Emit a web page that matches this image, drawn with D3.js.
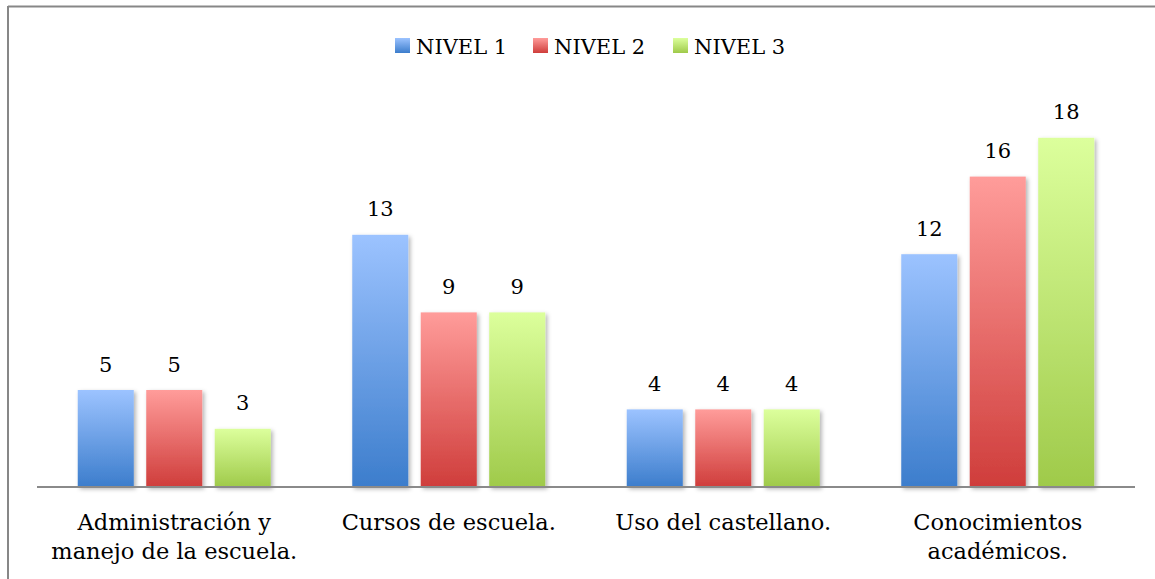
<html><head>
  <meta charset="utf-8">
  <script src="https://d3js.org/d3.v7.min.js"></script>
  <style>
    body { margin: 0; background: #fff; }
    text { font-family: 'DejaVu Serif', 'Liberation Serif', serif; fill: #000; }
  </style>
</head>
<body>
  <div id="chart"></div>
  <script>
    // data
    const categories = [
      ["Administración y", "manejo de la escuela."],
      ["Cursos de escuela."],
      ["Uso del castellano."],
      ["Conocimientos", "académicos."]
    ]
    const series = ["NIVEL 1", "NIVEL 2", "NIVEL 3"]
    const nivel1 = [5, 13, 4, 12]
    const nivel2 = [5, 9, 4, 16]
    const nivel3 = [3, 9, 4, 18]

    const colors = {
      "NIVEL 1": ["#9cc3ff", "#3c7dcc"],
      "NIVEL 2": ["#ff9c9a", "#cf3d3b"],
      "NIVEL 3": ["#dcff9c", "#9fca4a"]
    }

    const width = 1155, height = 579
    const svg = d3.select("#chart").append("svg")
                  .attr("width", width).attr("height", height)

    const defs = svg.append("defs")
    series.forEach((s, i) => {
      let g = defs.append("linearGradient").attr("id", "grad" + i)
                  .attr("x1", 0).attr("y1", 0).attr("x2", 0).attr("y2", 1)
      g.append("stop").attr("offset", "0%").attr("stop-color", colors[s][0])
      g.append("stop").attr("offset", "100%").attr("stop-color", colors[s][1])
    })
    defs.append("filter").attr("id", "shadow")
        .attr("x", "-20%").attr("y", "-10%").attr("width", "150%").attr("height", "130%")
        .append("feDropShadow")
        .attr("dx", 2).attr("dy", 2).attr("stdDeviation", 2)
        .attr("flood-color", "#000").attr("flood-opacity", 0.3)

    // outer frame (only top and left edges visible)
    svg.append("line").attr("x1", 8).attr("x2", width).attr("y1", 6.5).attr("y2", 6.5)
       .attr("stroke", "#878787").attr("stroke-width", 2)
    svg.append("line").attr("x1", 8).attr("x2", 8).attr("y1", 6).attr("y2", height)
       .attr("stroke", "#878787").attr("stroke-width", 2)

    const rows = categories.map((c, i) => ({
      cat: i,
      values: [nivel1[i], nivel2[i], nivel3[i]]
    }))

    const x0 = d3.scaleBand().domain(d3.range(categories.length)).range([37, 1135])
    const x1 = d3.scaleBand().domain(series).range([0, x0.bandwidth()])
                 .paddingInner(0.182).paddingOuter(0.595)
    const y = d3.scaleLinear().domain([0, 20]).range([487, 99])

    const groups = svg.selectAll("g.group").data(rows).join("g")
                      .attr("class", "group")
                      .attr("transform", d => `translate(${x0(d.cat)},0)`)

    groups.selectAll("rect").data(d => d.values.map((v, i) => ({s: series[i], i: i, v: v})))
          .join("rect")
          .attr("x", d => x1(d.s))
          .attr("y", d => y(d.v))
          .attr("width", x1.bandwidth())
          .attr("height", d => y(0) - y(d.v))
          .attr("fill", d => `url(#grad${d.i})`)
          .attr("filter", "url(#shadow)")

    groups.selectAll("text.val").data(d => d.values.map((v, i) => ({s: series[i], v: v})))
          .join("text").attr("class", "val")
          .attr("x", d => x1(d.s) + x1.bandwidth() / 2)
          .attr("y", d => y(d.v) - 18.5)
          .attr("text-anchor", "middle")
          .style("font-size", "21px")
          .text(d => d.v)

    // axis line
    svg.append("line").attr("x1", 37).attr("x2", 1135).attr("y1", y(0)).attr("y2", y(0))
       .attr("stroke", "#8a8a8a").attr("stroke-width", 2)

    // category labels
    const labels = svg.selectAll("text.cat").data(categories).join("text")
                      .attr("class", "cat")
                      .attr("text-anchor", "middle")
                      .style("font-size", "22.5px")
    labels.selectAll("tspan").data((d, i) => d.map(t => ({t: t, i: i}))).join("tspan")
          .attr("x", d => x0(d.i) + x0.bandwidth() / 2)
          .attr("y", (d, j) => 530 + j * 28.5)
          .text(d => d.t)

    // legend
    const legendX = [395, 533, 673]
    const legend = svg.selectAll("g.legend").data(series).join("g")
                      .attr("class", "legend")
                      .attr("transform", (d, i) => `translate(${legendX[i]},38)`)
    legend.append("rect").attr("width", 15).attr("height", 15)
          .attr("fill", (d, i) => `url(#grad${i})`)
    legend.append("text").attr("x", 21).attr("y", 16)
          .style("font-size", "21px")
          .text(d => d)
  </script>
</body>
</html>
